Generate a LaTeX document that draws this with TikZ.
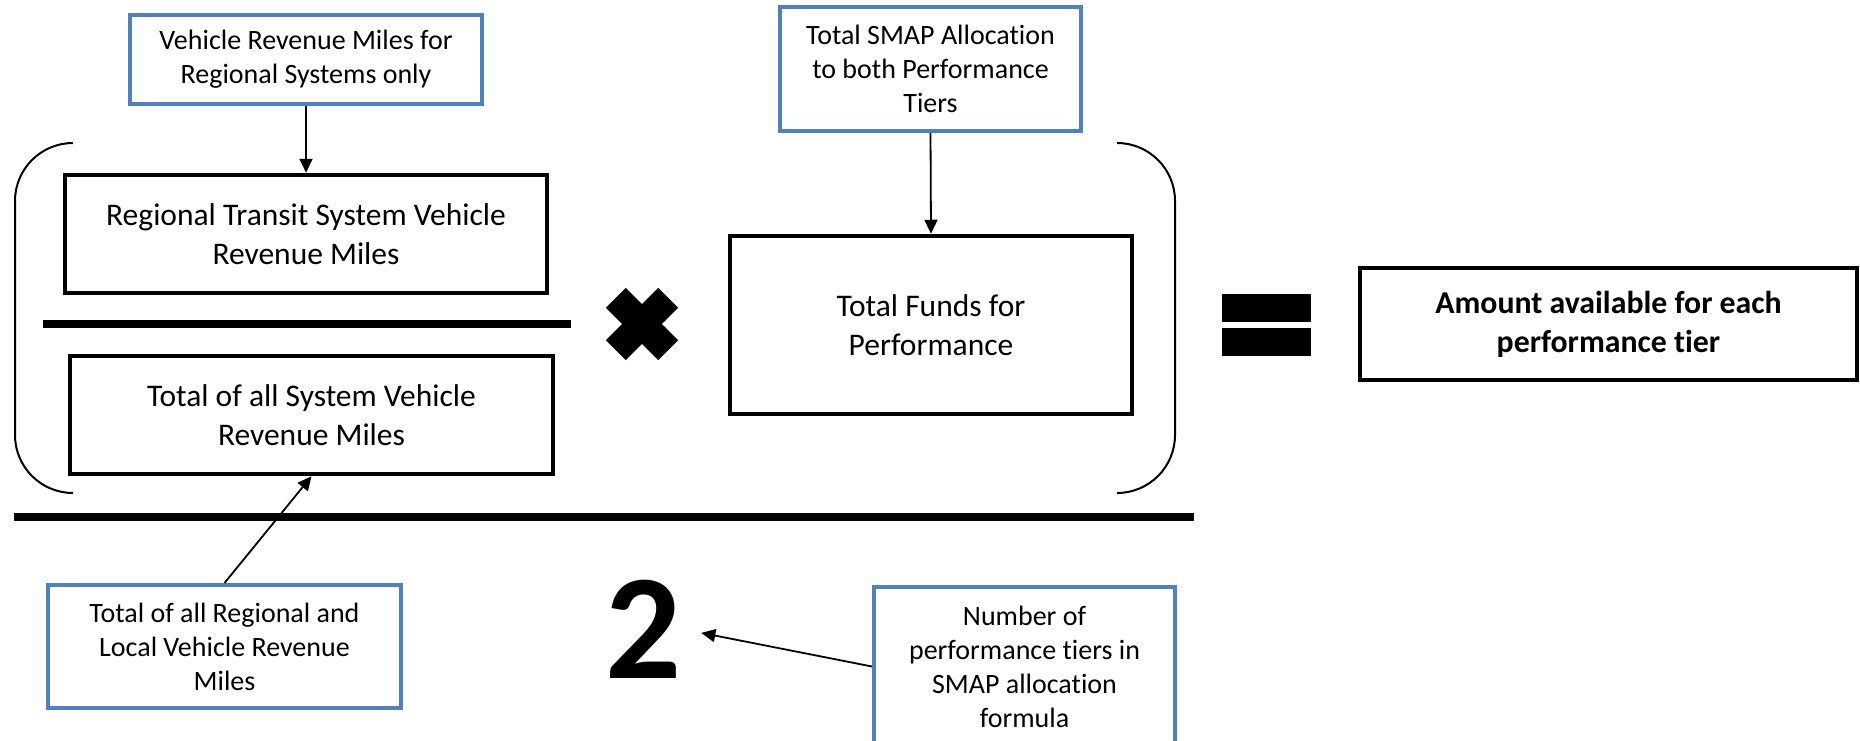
\documentclass[tikz,border=0pt]{standalone}
\usepackage{fontspec}
\setmainfont{Carlito}[Ligatures={NoCommon}]
\usetikzlibrary{arrows.meta}
\definecolor{officeblue}{RGB}{79,129,189}
\begin{document}
\begin{tikzpicture}[x=1pt,y=-1pt,
  bluebox/.style={draw=officeblue, line width=4pt, align=center, inner sep=0pt, font=\fontsize{28}{34}\selectfont},
  blackbox/.style={draw=black, line width=4.5pt, align=center, inner sep=0pt, font=\fontsize{31.5}{38.5}\selectfont},
  arr/.style={line width=1.8pt, -{Triangle[length=14pt,width=13pt]}},
  bracket/.style={line width=2pt, rounded corners=58pt},
  bar/.style={line width=7.5pt}]
\useasboundingbox (0,0) rectangle (1860,741);
\clip (0,0) rectangle (1860,741);
% boxes
\node[bluebox, minimum width=352, minimum height=89] (vrm) at (306,59.5) {Vehicle Revenue Miles for\\Regional Systems only};
\node[bluebox, minimum width=301, minimum height=124] (smap) at (930.5,69) {Total SMAP Allocation\\to both Performance\\Tiers};
\node[blackbox, minimum width=482, minimum height=118] (rtvrm) at (306,234) {Regional Transit System Vehicle\\Revenue Miles};
\node[blackbox, minimum width=483, minimum height=118] (tvrm) at (311.5,415) {Total of all System Vehicle\\Revenue Miles};
\node[blackbox, minimum width=402, minimum height=178] (funds) at (931,325) {Total Funds for\\Performance};
\node[blackbox, minimum width=497, minimum height=112, font=\bfseries\fontsize{31.8}{39}\selectfont] (amount) at (1608.5,324) {Amount available for each\\performance tier};
\node[bluebox, minimum width=353, minimum height=123] (rl) at (224.5,646.5) {Total of all Regional and\\Local Vehicle Revenue\\Miles};
\node[bluebox, minimum width=301, minimum height=159] (tiers) at (1024.5,666.5) {Number of\\performance tiers in\\SMAP allocation\\formula};
\node[font=\bfseries\fontsize{150}{150}\selectfont, inner sep=0pt] (two) at (643.5,629) {2};
% connectors
\draw[arr] (vrm.south) -- (rtvrm.north);
\draw[arr] (smap.south) -- (funds.north);
\draw[arr] (rl.north) -- (tvrm.south);
\draw[arr, shorten >=20pt] (tiers.west) -- (two.east);
% brackets
\draw[bracket] (73,143) -- (15,143) -- (15,493) -- (73,493);
\draw[bracket] (1117,143) -- (1175,143) -- (1175,493) -- (1119,493);
% fraction bars
\draw[bar] (43,324) -- (571,324);
\draw[bar] (14,517) -- (1194,517);
% times sign
\fill[rotate around={45:(642,324)}] (605,310) rectangle (679,338);
\fill[rotate around={-45:(642,324)}] (605,310) rectangle (679,338);
% equals sign
\fill (1222,294) rectangle (1311,322);
\fill (1222,328) rectangle (1311,356);
\end{tikzpicture}
\end{document}
